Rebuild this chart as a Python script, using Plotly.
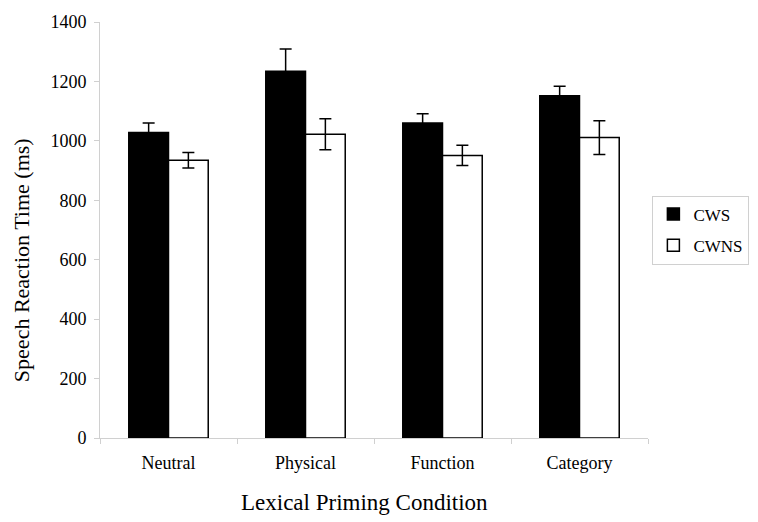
import plotly.graph_objects as go

# Lexical priming conditions and mean speech reaction times (ms)
conditions = ["Neutral", "Physical", "Function", "Category"]
cws = [1028, 1234, 1060, 1152]
cws_err = [32, 75, 31, 32]
cwns = [935, 1022, 951, 1011]
cwns_err = [26, 52, 34, 57]

serif = "Liberation Serif, Times New Roman, serif"

fig = go.Figure()

fig.add_trace(go.Bar(
    x=conditions, y=cws, name="CWS", legendgroup="cws",
    marker=dict(color="black", line=dict(color="black", width=1.5)),
    error_y=dict(type="data", array=cws_err, color="black", thickness=1.5, width=6)
))

fig.add_trace(go.Bar(
    x=conditions, y=cwns, name="CWNS", legendgroup="cwns",
    marker=dict(color="white", line=dict(color="black", width=1.5)),
    error_y=dict(type="data", array=cwns_err, color="black", thickness=1.5, width=6)
))

# the page body adds an 8px offset, so margins are shifted to compensate
fig.update_layout(
    width=758, height=522,
    barmode="group",
    bargap=0.42,
    bargroupgap=0,
    plot_bgcolor="white",
    paper_bgcolor="white",
    font=dict(family=serif, color="black", size=18),
    margin=dict(l=92, r=118, t=14, b=92, autoexpand=False),
    legend=dict(
        x=1.008, y=0.5, xanchor="left", yanchor="middle",
        bordercolor="#d0d0d0", borderwidth=1,
        font=dict(family=serif, size=17),
        itemwidth=30,
        traceorder="grouped",
        tracegroupgap=6,
    ),
    xaxis=dict(
        showline=True, linecolor="#d0d0d0", linewidth=1,
        ticks="outside", tickson="boundaries", tickcolor="#d0d0d0", ticklen=5,
        tickfont=dict(size=18), ticklabelstandoff=8,
        showgrid=False, automargin=False,
    ),
    yaxis=dict(
        range=[0, 1400], dtick=200,
        showline=True, linecolor="#d0d0d0", linewidth=1,
        ticks="outside", tickcolor="#d0d0d0", ticklen=5,
        tickfont=dict(size=18), ticklabelstandoff=4,
        showgrid=False, zeroline=False, automargin=False,
    ),
    annotations=[
        dict(text="Lexical Priming Condition", xref="paper", yref="paper",
             x=0.482, y=-0.156, showarrow=False, font=dict(size=23),
             xanchor="center", yanchor="middle"),
        dict(text="Speech Reaction Time (ms)", xref="paper", yref="paper",
             x=-0.142, y=0.428, showarrow=False, font=dict(size=22),
             textangle=-90, xanchor="center", yanchor="middle"),
    ],
)

fig.write_html("out.html")
